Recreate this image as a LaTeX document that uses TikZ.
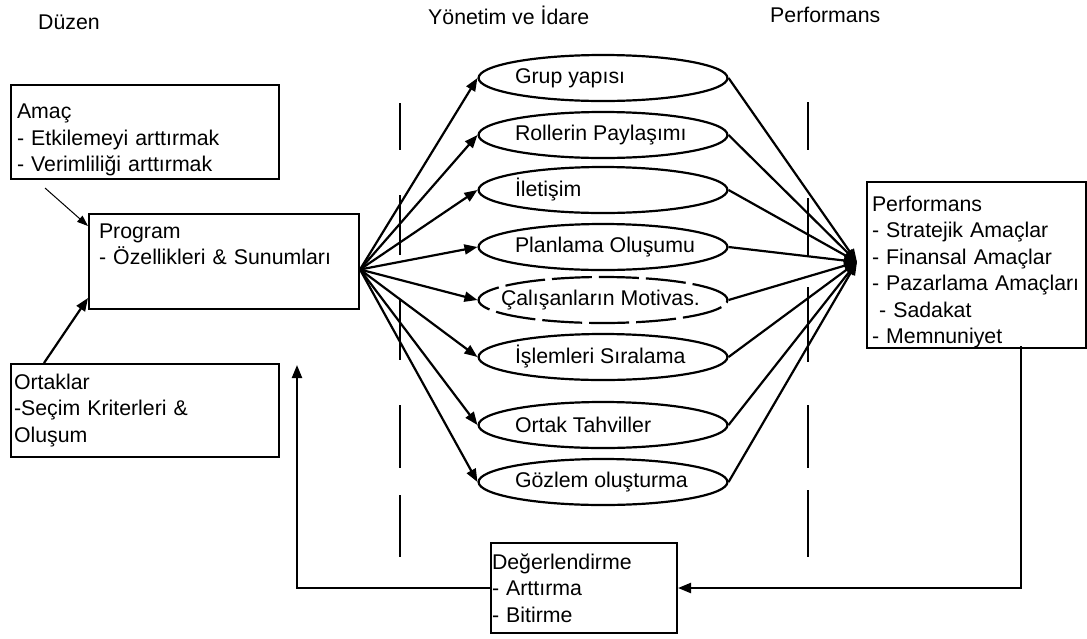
\documentclass[tikz,border=0pt]{standalone}
\usepackage{fontspec}
\setmainfont{Liberation Sans}
\usetikzlibrary{arrows.meta,shapes.geometric,positioning}

\newcommand{\ovaltext}[1]{\makebox[176pt][l]{#1}}

\begin{document}
\begin{tikzpicture}
  [x=1pt,y=-1pt,
   every node/.style={font=\fontsize{21.3pt}{26.5pt}\selectfont},
   box/.style={draw,line width=2pt,rectangle,anchor=north west,align=left,inner ysep=0pt},
   oval/.style={draw,line width=2.2pt,ellipse,minimum height=46pt,inner sep=0pt},
   fanarrow/.style={line width=2.2pt,-{Triangle[length=13pt,width=10pt]}},
   thinarrow/.style={line width=1pt,-{Triangle[length=11pt,width=8pt]}},
   guide/.style={line width=2pt},
   title/.style={anchor=west,inner sep=0pt}]

  \useasboundingbox (0,0) rectangle (1087,638);

  % column titles
  \node [title] (t1) at (38,22) {Düzen};
  \node [title] (t2) at (428,15) {Yönetim ve İdare};
  \node [title] (t3) at (770,15) {Performans};

  % left column
  \node [box,minimum width=268pt,minimum height=94pt,text width=256pt,inner xsep=6pt,text height=31pt]
    (amac) at (10,84) {Amaç\\- Etkilemeyi arttırmak\\- Verimliliği arttırmak};
  \node [box,minimum width=270pt,minimum height=95pt,text width=250pt,inner xsep=10pt]
    (program) at (88,213) {Program\\- Özellikleri \& Sunumları\\ \strut};
  \node [box,minimum width=268pt,minimum height=93pt,text width=262pt,inner xsep=3pt]
    (ortak) at (10,363) {Ortaklar\\-Seçim Kriterleri \&\\Oluşum};

  \draw [thinarrow] ([xshift=35pt,yshift=-8pt]amac.south west) -- ([yshift=-13pt]program.north west);
  \draw [fanarrow] ([xshift=34pt]ortak.north west) -- ([yshift=12pt]program.south west);

  % middle column
  \node [oval] (g1) at (603,78) {\ovaltext{Grup yapısı}};
  \node [oval] (g2) at (603,135) {\ovaltext{Rollerin Paylaşımı}};
  \node [oval] (g3) at (603,190) {\ovaltext{İletişim}};
  \node [oval] (g4) at (603,247) {\ovaltext{Planlama Oluşumu}};
  \node [oval,dash pattern=on 40pt off 7pt] (g5) at (603,300) {\ovaltext{\hspace*{-14pt}Çalışanların Motivas.}};
  \node [oval] (g6) at (603,357) {\ovaltext{İşlemleri Sıralama}};
  \node [oval] (g7) at (603,425) {\ovaltext{Ortak Tahviller}};
  \node [oval] (g8) at (603,482) {\ovaltext{Gözlem oluşturma}};

  % right column
  \node [box,minimum width=219pt,minimum height=165pt,text width=209pt,inner xsep=5pt,text height=29pt]
    (perf) at (866,181) {Performans\\- Stratejik Amaçlar\\- Finansal Amaçlar\\- Pazarlama Amaçları\\\ - Sadakat\\- Memnuniyet};

  % bottom
  \node [box,minimum width=186pt,minimum height=90pt,text width=184pt,inner xsep=1pt]
    (deger) at (490,542) {Değerlendirme\\- Arttırma\\- Bitirme};

  \coordinate (fan) at ([yshift=-8pt]program.east);
  \coordinate (hub) at (857,262);
  \foreach \g in {g1,g2,g3,g4,g5,g6,g7,g8} {
    \draw [fanarrow] (fan) -- (\g.west);
    \draw [fanarrow] (\g.east) -- (hub);
  }

  % dashed separators
  \foreach \a/\b in {103/150,195/255,300/360,405/468,495/557}
    \draw [guide] (400,\a) -- (400,\b);
  \foreach \a/\b in {102/150,198/257,287/362,405/468,490/557}
    \draw [line width=1.5pt] (808,\a) -- (808,\b);

  % feedback loop
  \coordinate (fbtop) at (297,365);
  \coordinate (pdrop) at (1021,346);
  \draw [fanarrow] (deger.west) -| (fbtop);
  \draw [fanarrow] (pdrop) |- (deger.east);
\end{tikzpicture}
\end{document}
